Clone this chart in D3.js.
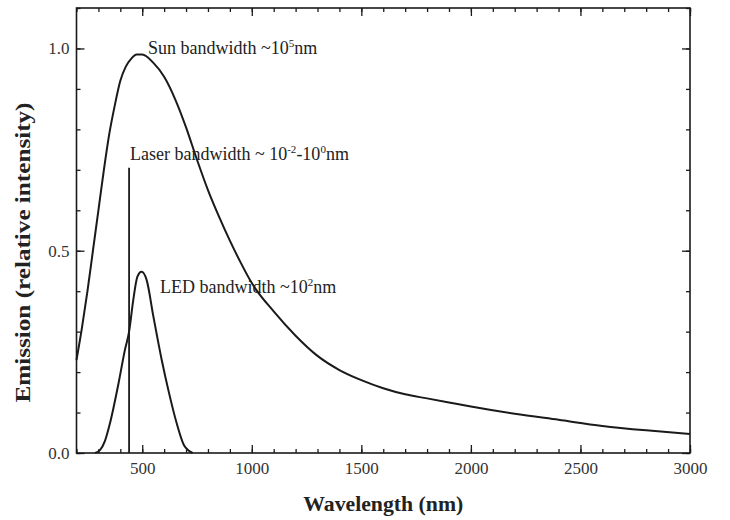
<!DOCTYPE html>
<html>
<head>
<meta charset="utf-8">
<script src="https://cdn.jsdelivr.net/npm/d3@7"></script>
<style>
  body { margin: 0; background: #fff; }
  svg text { font-family: "Liberation Serif", "DejaVu Serif", serif; }
</style>
</head>
<body>
<svg id="chart" width="730" height="520"></svg>
<script>
// --- data ---
const sunWavelength = [200, 225, 250, 275, 300, 325, 350, 375, 400, 425, 450, 475, 500, 550, 600, 650, 700, 750, 800, 850, 900, 950, 1000, 1100, 1200, 1300, 1400, 1500, 1600, 1700, 1800, 1900, 2000, 2200, 2400, 2600, 2800, 3000];
const sunEmission   = [0.23, 0.31, 0.40, 0.50, 0.60, 0.70, 0.79, 0.86, 0.92, 0.955, 0.975, 0.985, 0.985, 0.965, 0.93, 0.875, 0.805, 0.725, 0.65, 0.585, 0.525, 0.47, 0.42, 0.35, 0.29, 0.24, 0.205, 0.18, 0.16, 0.145, 0.135, 0.125, 0.115, 0.097, 0.082, 0.067, 0.056, 0.047];

const ledWavelength = [285, 307, 330, 353, 391, 421, 440, 459, 478, 497, 520, 551, 589, 619, 657, 690, 710, 730];
const ledEmission   = [0, 0.007, 0.03, 0.074, 0.17, 0.255, 0.30, 0.378, 0.436, 0.448, 0.428, 0.337, 0.23, 0.156, 0.074, 0.02, 0.007, 0];

const laserWavelength = 440;
const laserEmission = 0.705;

const xMajorTicks = [500, 1000, 1500, 2000, 2500, 3000];
const yMajorTicks = [0, 0.5, 1.0];

const svg = d3.select("#chart");
const mLeft = 76.5, mRight = 690, mTop = 8, mBottom = 453;

const x = d3.scaleLinear().domain([200, 3000]).range([mLeft, mRight]);
const y = d3.scaleLinear().domain([0, 1.1]).range([mBottom, mTop]);

const ink = "#1a1a1a";

// frame
svg.append("rect")
  .attr("x", mLeft).attr("y", mTop)
  .attr("width", mRight - mLeft).attr("height", mBottom - mTop)
  .attr("fill", "none").attr("stroke", ink).attr("stroke-width", 1.6);

function styleAxis(g) {
  g.select(".domain").remove();
  g.selectAll("line").attr("stroke", ink).attr("stroke-width", 1.3);
  g.selectAll("text").attr("fill", "#333").attr("font-size", 17);
}

const xMinor = d3.range(200, 3001, 100);
const yMinor = d3.range(0, 1.101, 0.1);

// bottom
svg.append("g").attr("transform", `translate(0,${mBottom})`)
  .call(d3.axisBottom(x).tickValues(xMinor).tickSize(-4).tickFormat(""))
  .call(styleAxis);
svg.append("g").attr("transform", `translate(0,${mBottom})`)
  .call(d3.axisBottom(x).tickValues(xMajorTicks).tickSize(-8).tickPadding(9).tickFormat(d3.format("d")))
  .call(styleAxis);
// top
svg.append("g").attr("transform", `translate(0,${mTop})`)
  .call(d3.axisTop(x).tickValues(xMinor).tickSize(-4).tickFormat(""))
  .call(styleAxis);
svg.append("g").attr("transform", `translate(0,${mTop})`)
  .call(d3.axisTop(x).tickValues(xMajorTicks).tickSize(-8).tickFormat(""))
  .call(styleAxis);
// left
svg.append("g").attr("transform", `translate(${mLeft},0)`)
  .call(d3.axisLeft(y).tickValues(yMinor).tickSize(-4).tickFormat(""))
  .call(styleAxis);
svg.append("g").attr("transform", `translate(${mLeft},0)`)
  .call(d3.axisLeft(y).tickValues(yMajorTicks).tickSize(-8).tickPadding(7).tickFormat(d3.format(".1f")))
  .call(styleAxis);
// right
svg.append("g").attr("transform", `translate(${mRight},0)`)
  .call(d3.axisRight(y).tickValues(yMinor).tickSize(-4).tickFormat(""))
  .call(styleAxis);
svg.append("g").attr("transform", `translate(${mRight},0)`)
  .call(d3.axisRight(y).tickValues(yMajorTicks).tickSize(-8).tickFormat(""))
  .call(styleAxis);

// curves
const line = d3.line().x(d => x(d[0])).y(d => y(d[1])).curve(d3.curveMonotoneX);

svg.append("path")
  .datum(d3.zip(sunWavelength, sunEmission))
  .attr("d", line)
  .attr("fill", "none").attr("stroke", ink).attr("stroke-width", 2);

svg.append("path")
  .datum(d3.zip(ledWavelength, ledEmission))
  .attr("d", line)
  .attr("fill", "none").attr("stroke", ink).attr("stroke-width", 2);

svg.append("line")
  .attr("x1", x(laserWavelength)).attr("x2", x(laserWavelength))
  .attr("y1", y(0)).attr("y2", y(laserEmission))
  .attr("stroke", ink).attr("stroke-width", 1.8);

// annotations: parts are [text, superscript?]
function label(px, py, parts) {
  const t = svg.append("text").attr("x", px).attr("y", py)
    .attr("font-size", 18).attr("fill", "#222");
  let raised = false;
  parts.forEach(([txt, sup]) => {
    const s = t.append("tspan").text(txt);
    if (sup) { s.attr("font-size", 11).attr("dy", raised ? 0 : -7); raised = true; }
    else { if (raised) s.attr("dy", 7); raised = false; }
  });
}
label(148, 54, [["Sun bandwidth ~10"], ["5", true], ["nm"]]);
label(130, 160, [["Laser bandwidth ~ 10"], ["-2", true], ["-10"], ["0", true], ["nm"]]);
label(160, 293, [["LED bandwidth ~10"], ["2", true], ["nm"]]);

// axis titles
svg.append("text")
  .attr("x", (mLeft + mRight) / 2).attr("y", 511)
  .attr("text-anchor", "middle").attr("font-size", 20).attr("font-weight", "bold").attr("fill", "#222")
  .attr("textLength", 160).attr("lengthAdjust", "spacingAndGlyphs")
  .text("Wavelength (nm)");
svg.append("text")
  .attr("transform", `translate(30,${(mTop + mBottom) / 2 + 22}) rotate(-90)`)
  .attr("text-anchor", "middle").attr("font-size", 21).attr("font-weight", "bold").attr("fill", "#222")
  .attr("textLength", 300).attr("lengthAdjust", "spacingAndGlyphs")
  .text("Emission (relative intensity)");
</script>
</body>
</html>
